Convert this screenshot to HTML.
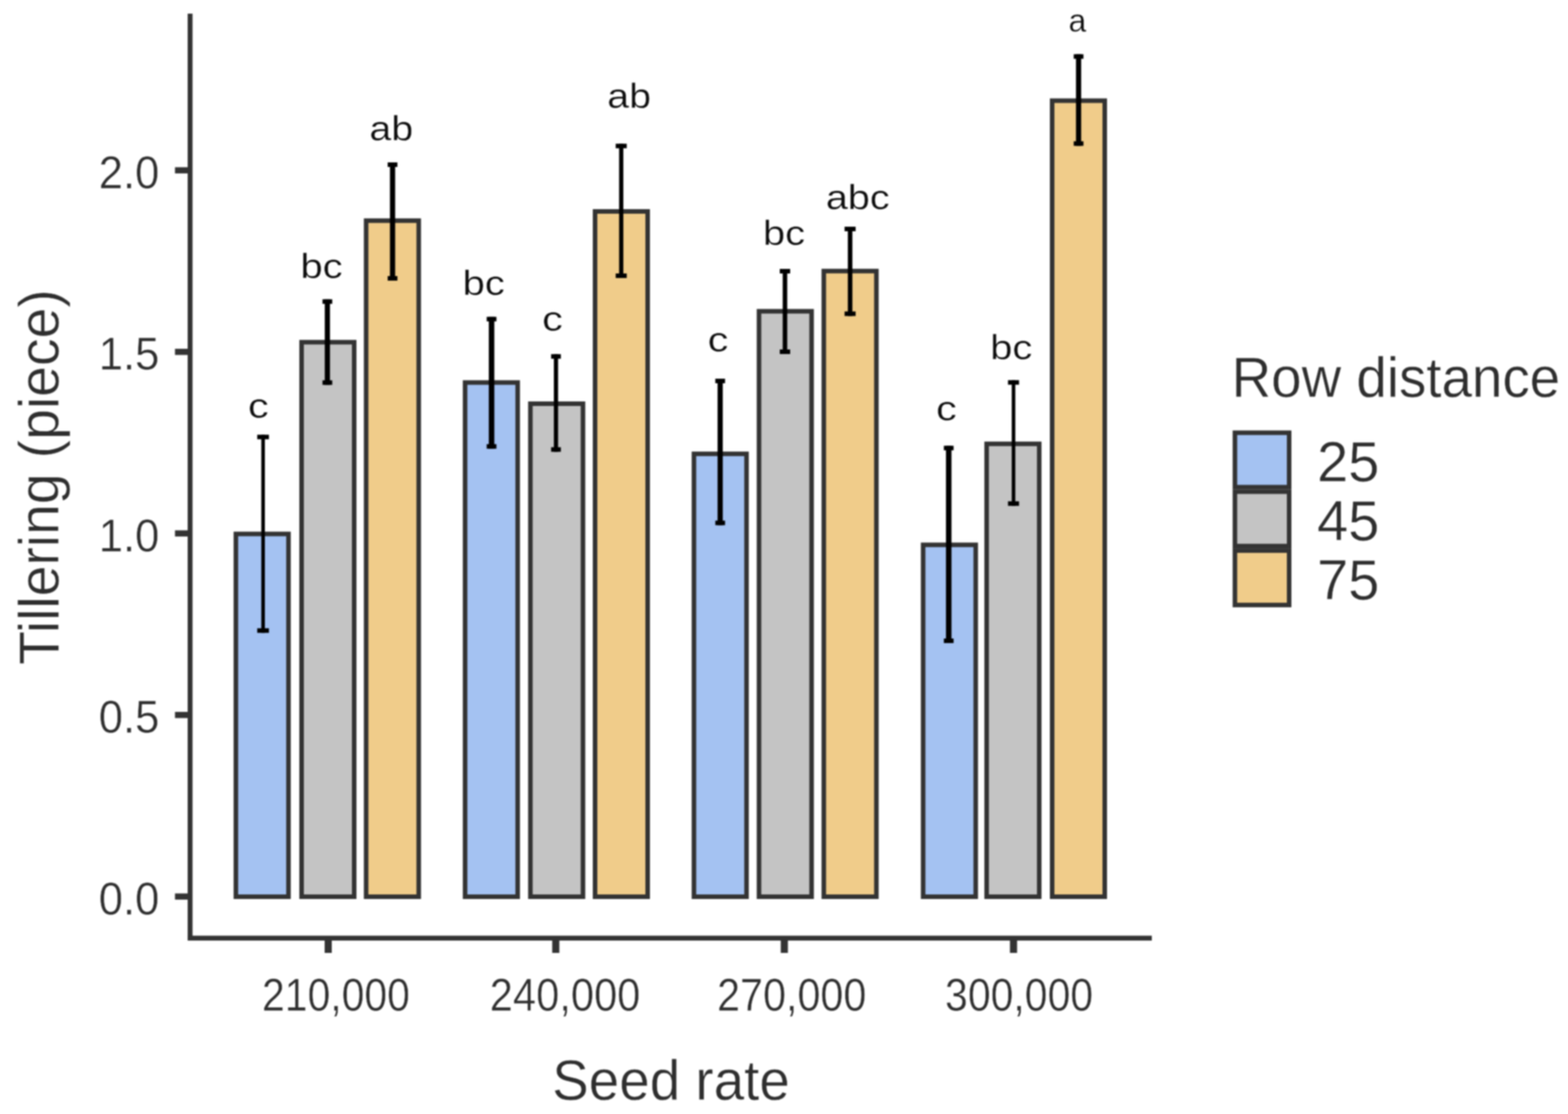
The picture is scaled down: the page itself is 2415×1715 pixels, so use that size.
<!DOCTYPE html>
<html lang="en"><head><meta charset="utf-8"><title>Tillering by seed rate and row distance</title>
<style>html,body{margin:0;padding:0;background:#fff}body{width:2415px;height:1715px}svg{display:block}text{font-family:'Liberation Sans', sans-serif;stroke:#fff;stroke-width:0.6px;paint-order:fill}.lab text{stroke-width:0.4px}svg{filter:blur(1.1px)}</style>
</head><body>
<svg width="2415" height="1715" viewBox="0 0 2415 1715">
<rect x="0" y="0" width="2415" height="1715" fill="#ffffff"/>
<g stroke="#333333" stroke-width="7" stroke-linejoin="miter">
<rect x="363.3" y="822.0" width="81.0" height="558.5" fill="#A4C2F2"/>
<rect x="464.5" y="526.8" width="81.0" height="853.7" fill="#C4C4C4"/>
<rect x="563.9" y="339.7" width="81.0" height="1040.8" fill="#F0CC8A"/>
<rect x="716.3" y="588.9" width="81.0" height="791.6" fill="#A4C2F2"/>
<rect x="816.9" y="621.5" width="81.0" height="759.0" fill="#C4C4C4"/>
<rect x="916.5" y="325.5" width="81.0" height="1055.0" fill="#F0CC8A"/>
<rect x="1068.8" y="698.7" width="81.0" height="681.8" fill="#A4C2F2"/>
<rect x="1169.0" y="479.2" width="81.0" height="901.3" fill="#C4C4C4"/>
<rect x="1268.8" y="417.3" width="81.0" height="963.2" fill="#F0CC8A"/>
<rect x="1421.8" y="838.8" width="81.0" height="541.7" fill="#A4C2F2"/>
<rect x="1519.6" y="683.3" width="81.0" height="697.2" fill="#C4C4C4"/>
<rect x="1620.5" y="155.0" width="81.0" height="1225.5" fill="#F0CC8A"/>
</g>
<g stroke="#000000" fill="none">
<path d="M405.2 669.3V974.3" stroke-width="5.5"/>
<path d="M396.2 672.8h18 M396.2 970.8h18" stroke-width="7"/>
<path d="M504.2 460.8V592.4" stroke-width="8"/>
<path d="M496.7 464.3h15 M496.7 588.9h15" stroke-width="7"/>
<path d="M604.6 250.0V432.0" stroke-width="8"/>
<path d="M597.1 253.5h15 M597.1 428.5h15" stroke-width="7"/>
<path d="M757.1 487.8V690.8" stroke-width="8.5"/>
<path d="M749.6 491.3h15 M749.6 687.3h15" stroke-width="7"/>
<path d="M856.3 545.2V695.5" stroke-width="6.5"/>
<path d="M848.8 548.7h15 M848.8 692.0h15" stroke-width="7"/>
<path d="M956.8 221.3V428.0" stroke-width="6.5"/>
<path d="M948.3 224.8h17 M948.3 424.5h17" stroke-width="7"/>
<path d="M1109.2 583.0V808.6" stroke-width="8"/>
<path d="M1101.7 586.5h15 M1101.7 805.1h15" stroke-width="7"/>
<path d="M1209.0 414.0V544.9" stroke-width="7"/>
<path d="M1201.0 417.5h16 M1201.0 541.4h16" stroke-width="7"/>
<path d="M1309.3 349.0V486.4" stroke-width="7"/>
<path d="M1300.8 352.5h17 M1300.8 482.9h17" stroke-width="7"/>
<path d="M1461.2 686.3V990.0" stroke-width="8.5"/>
<path d="M1453.7 689.8h15 M1453.7 986.5h15" stroke-width="7"/>
<path d="M1561.0 585.3V778.7" stroke-width="5.5"/>
<path d="M1552.5 588.8h17 M1552.5 775.2h17" stroke-width="7"/>
<path d="M1661.2 83.5V224.4" stroke-width="8"/>
<path d="M1653.7 87.0h15 M1653.7 220.9h15" stroke-width="7"/>
</g>
<g font-size="54.5" fill="#0d0d0d" text-anchor="middle" class="lab">
<text transform="translate(398.0 643.0) scale(1.17 1)">c</text>
<text transform="translate(495.2 428.0) scale(1.13 1)">bc</text>
<text transform="translate(602.7 216.2) scale(1.11 1)">ab</text>
<text transform="translate(745.0 453.5) scale(1.13 1)">bc</text>
<text transform="translate(851.0 509.0) scale(1.17 1)">c</text>
<text transform="translate(969.0 165.6) scale(1.11 1)">ab</text>
<text transform="translate(1106.0 540.5) scale(1.17 1)">c</text>
<text transform="translate(1207.4 377.0) scale(1.13 1)">bc</text>
<text transform="translate(1321.1 322.0) scale(1.12 1)">abc</text>
<text transform="translate(1457.6 646.5) scale(1.17 1)">c</text>
<text transform="translate(1557.4 552.5) scale(1.13 1)">bc</text>
<text transform="translate(1659.3 49.0) scale(0.9 0.93)">a</text>
</g>
<g stroke="#333333" fill="none">
<path d="M292.8 21V1448" stroke-width="7.5"/>
<path d="M289 1444.2H1774" stroke-width="7.5"/>
<path d="M269.5 1380.2H290" stroke-width="9.5"/>
<path d="M269.5 1100.7H290" stroke-width="9.5"/>
<path d="M269.5 821.2H290" stroke-width="9.5"/>
<path d="M269.5 541.7H290" stroke-width="9.5"/>
<path d="M269.5 262.2H290" stroke-width="9.5"/>
<path d="M505.5 1447V1467" stroke-width="11"/>
<path d="M856.0 1447V1467" stroke-width="11"/>
<path d="M1208.0 1447V1467" stroke-width="11"/>
<path d="M1561.0 1447V1467" stroke-width="11"/>
</g>
<g font-size="70.5" fill="#2e2e2e" text-anchor="end">
<text x="245.5" y="1407.5" textLength="93.5" lengthAdjust="spacingAndGlyphs">0.0</text>
<text x="245.5" y="1128.0" textLength="93.5" lengthAdjust="spacingAndGlyphs">0.5</text>
<text x="245.5" y="848.5" textLength="93.5" lengthAdjust="spacingAndGlyphs">1.0</text>
<text x="245.5" y="569.0" textLength="93.5" lengthAdjust="spacingAndGlyphs">1.5</text>
<text x="245.5" y="289.5" textLength="93.5" lengthAdjust="spacingAndGlyphs">2.0</text>
</g>
<g font-size="70.5" fill="#2e2e2e" text-anchor="middle">
<text x="517.4" y="1555.5" textLength="227.6" lengthAdjust="spacingAndGlyphs">210,000</text>
<text x="870.3" y="1555.5" textLength="232" lengthAdjust="spacingAndGlyphs">240,000</text>
<text x="1219.4" y="1555.5" textLength="230" lengthAdjust="spacingAndGlyphs">270,000</text>
<text x="1569.6" y="1555.5" textLength="228" lengthAdjust="spacingAndGlyphs">300,000</text>
</g>
<text x="1033.5" y="1693.3" font-size="88" fill="#2e2e2e" text-anchor="middle" textLength="366" lengthAdjust="spacingAndGlyphs">Seed rate</text>
<text transform="translate(89.5 734.5) rotate(-90)" font-size="88" fill="#2e2e2e" text-anchor="middle" textLength="578" lengthAdjust="spacingAndGlyphs">Tillering (piece)</text>
<text x="1897" y="610.5" font-size="88" fill="#2e2e2e" textLength="506" lengthAdjust="spacingAndGlyphs">Row distance</text>
<g stroke="#333333" stroke-width="7">
<rect x="1902" y="666.2" width="83.5" height="83.8" fill="#A4C2F2"/>
<rect x="1902" y="756.9" width="83.5" height="83.8" fill="#C4C4C4"/>
<rect x="1902" y="847.6" width="83.5" height="83.8" fill="#F0CC8A"/>
</g>
<g font-size="87.5" fill="#2e2e2e">
<text x="2028.5" y="741.3" textLength="96" lengthAdjust="spacingAndGlyphs">25</text>
<text x="2028.5" y="832.3" textLength="96" lengthAdjust="spacingAndGlyphs">45</text>
<text x="2028.5" y="923.3" textLength="96" lengthAdjust="spacingAndGlyphs">75</text>
</g>
</svg>
</body></html>
